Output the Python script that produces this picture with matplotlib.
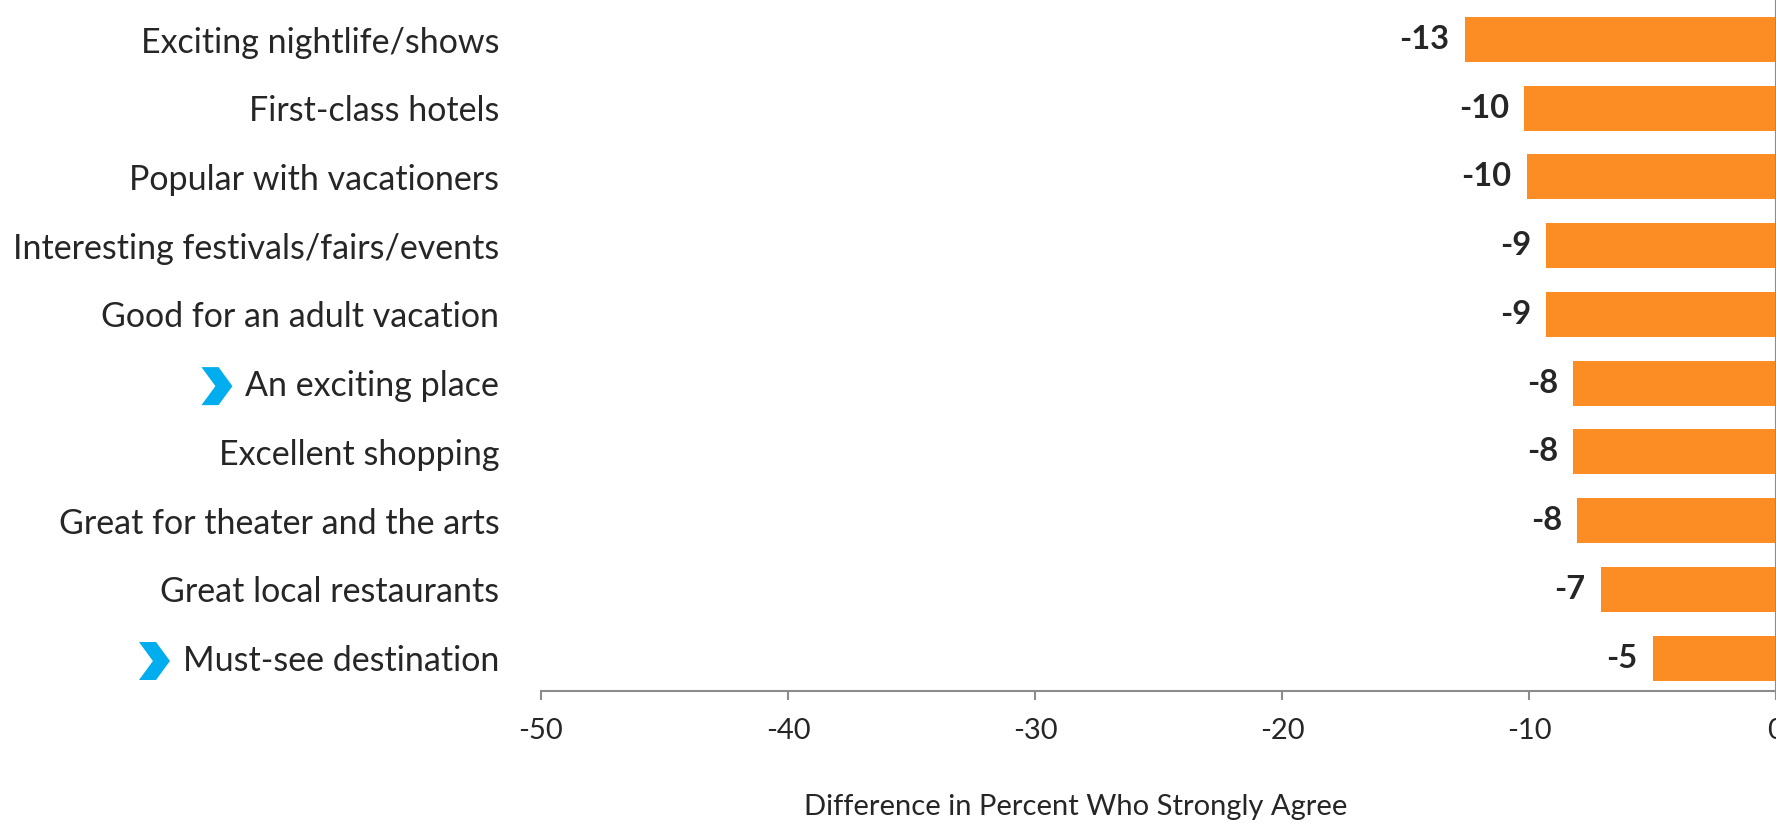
import matplotlib
matplotlib.use("Agg")
import matplotlib.pyplot as plt
from matplotlib.patches import Polygon
from matplotlib.transforms import Affine2D

# ---- data ----
categories = [
    "Exciting nightlife/shows",
    "First-class hotels",
    "Popular with vacationers",
    "Interesting festivals/fairs/events",
    "Good for an adult vacation",
    "An exciting place",
    "Excellent shopping",
    "Great for theater and the arts",
    "Great local restaurants",
    "Must-see destination",
]
values = [-12.6, -10.2, -10.1, -9.3, -9.3, -8.2, -8.2, -8.05, -7.1, -5.0]
value_labels = ["-13", "-10", "-10", "-9", "-9", "-8", "-8", "-8", "-7", "-5"]
flagged = ["An exciting place", "Must-see destination"]
x_ticks = [-50, -40, -30, -20, -10, 0]
x_label = "Difference in Percent Who Strongly Agree"

# ---- style ----
plt.rcParams['font.family'] = ['Lato', 'DejaVu Sans']
text_color = "#262626"
bar_color = "#FB8D24"
axis_color = "#8C8C8C"
chevron_color = "#00ADEF"

W, H, DPI = 1776, 825, 100
fig = plt.figure(figsize=(W / DPI, H / DPI), dpi=DPI)
ax = fig.add_axes([541 / W, (H - 691) / H, 1 - 541 / W, 691 / H])

ypos = list(range(len(categories)))
ax.barh(ypos, values, height=0.655, color=bar_color, edgecolor='none', zorder=2)

ax.set_xlim(-50, 0)
ax.set_ylim(9.48, -0.575)
ax.set_xticks(x_ticks)
ax.set_xticklabels([str(t) for t in x_ticks])
ax.set_yticks(ypos)
ax.set_yticklabels(categories)

ax.tick_params(axis='y', length=0, pad=30, labelsize=24.5, labelcolor=text_color)
ax.tick_params(axis='x', length=6.5, width=1.5, color=axis_color, pad=13,
               labelsize=21, labelcolor=text_color)

for s in ['top', 'left']:
    ax.spines[s].set_visible(False)
for s in ['bottom', 'right']:
    ax.spines[s].set_color(axis_color)
    ax.spines[s].set_linewidth(1.5)

# value labels
for y, v, lab in zip(ypos, values, value_labels):
    ax.annotate(lab, xy=(v, y), xytext=(-11, 0), textcoords='offset points',
                ha='right', va='center', fontsize=23.5, fontweight='bold',
                color=text_color)

# chevrons before flagged labels
fig.canvas.draw()
renderer = fig.canvas.get_renderer()
chev = [(0.0, 0.0), (0.55, 0.0), (1.0, 0.5), (0.55, 1.0), (0.0, 1.0), (0.45, 0.5)]
for tl in ax.get_yticklabels():
    if tl.get_text() in flagged:
        bb = tl.get_window_extent(renderer)
        cy = (bb.y0 + bb.y1) / 2
        w, h = 31, 38
        x0 = bb.x0 - 13 - w
        tr = Affine2D().scale(w, h).translate(x0, cy - h / 2)
        fig.patches.append(Polygon(chev, closed=True, facecolor=chevron_color,
                                   edgecolor='none', transform=tr, figure=fig))

fig.text(1076 / W, 1 - 807 / H, x_label, ha='center', va='center',
         fontsize=21, color=text_color)

fig.savefig("out.png", dpi=DPI, facecolor='white')
